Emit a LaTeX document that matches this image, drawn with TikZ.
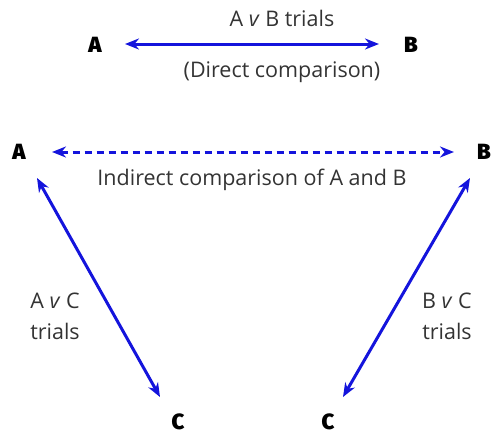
\documentclass[tikz,border=0pt]{standalone}
\usepackage{fontspec}
\setmainfont{Open Sans}
\newfontfamily\heavyfont{Fira Sans Black}
\usetikzlibrary{arrows.meta}
\definecolor{arrowblue}{RGB}{20,20,220}
\tikzset{
  letter/.style={font=\fontsize{22}{22}\selectfont\heavyfont, inner sep=0pt},
  lbl/.style={font=\fontsize{21.5}{31}\selectfont, text=black!80, inner sep=0pt, align=center},
  conn/.style={draw=arrowblue, line width=3pt, {Stealth[length=14pt,width=11pt]}-{Stealth[length=14pt,width=11pt]}},
}
\begin{document}
\begin{tikzpicture}[x=1pt,y=-1pt]
\useasboundingbox (0,0) rectangle (493,434);
% top
\node[letter] (A1) at (95,45) {A};
\node[letter] (B1) at (411,45) {B};
\coordinate (a1) at (125,44);
\coordinate (b1) at (379,44);
\draw[conn] (a1) -- (b1);
\node[lbl] (t1) at (282,18) {A \textit{v} B trials};
\node[lbl] (t2) at (282,72) {(Direct comparison)};
% middle
\node[letter] (A2) at (19,152) {A};
\node[letter] (B2) at (484,152) {B};
\coordinate (a2) at (52,152);
\coordinate (b2) at (454,152);
\draw[conn, dashed, dash pattern=on 7pt off 5pt] (a2) -- (b2);
\node[lbl] (t3) at (252,180) {Indirect comparison of A and B};
% sides
\coordinate (a3) at (37,178);
\coordinate (c3) at (160,397);
\draw[conn] (a3) -- (c3);
\coordinate (b4) at (470,178);
\coordinate (c4) at (343,397);
\draw[conn] (b4) -- (c4);
\node[letter, anchor=base] (C1) at (178,429) {C};
\node[letter, anchor=base] (C2) at (328,429) {C};
\node[lbl] (t4) at (55,316) {A \textit{v} C\\trials};
\node[lbl] (t5) at (447,316) {B \textit{v} C\\trials};
\end{tikzpicture}
\end{document}
